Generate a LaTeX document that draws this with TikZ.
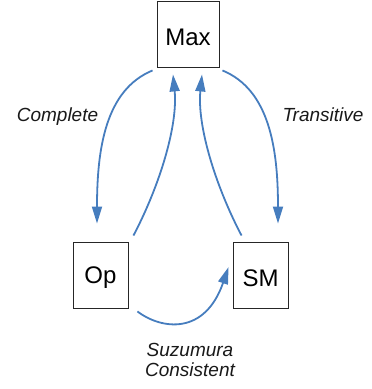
\documentclass[tikz,border=0pt]{standalone}
\usepackage{fontspec}
\setmainfont{Liberation Sans}
\usetikzlibrary{arrows.meta}
\definecolor{arrowblue}{RGB}{70,125,190}
\tikzset{
  boxnode/.style={draw=black!85, line width=0.9pt, rectangle, inner sep=0pt,
    minimum height=66pt, font=\fontsize{24}{28}\selectfont, text height=22pt, text depth=0pt},
  lbl/.style={font=\fontsize{19}{20}\selectfont\itshape, inner sep=0pt, text=black!90},
  conn/.style={draw=arrowblue, line width=1.8pt, -{Triangle[length=17pt,width=10pt]}}
}
\begin{document}
\begin{tikzpicture}[x=1pt,y=-1pt]
\useasboundingbox (0,0) rectangle (372,389);
\node[boxnode, minimum width=62pt] (max) at (188,34) {Max};
\node[boxnode, minimum width=55pt, text height=16pt] (op) at (100.5,275) {Op};
\node[boxnode, minimum width=55pt] (sm) at (260.5,275) {SM};

\draw[conn] ([xshift=-4pt,yshift=-3pt]max.south west) .. controls (105,90) and (97,150) .. ([xshift=-3.5pt,yshift=18pt]op.north);
\draw[conn] ([xshift=5pt,yshift=6pt]op.north east) .. controls (160,185) and (178,125) .. ([xshift=-15pt,yshift=-7pt]max.south);
\draw[conn] ([xshift=9pt,yshift=6pt]sm.north west) .. controls (215,185) and (197,125) .. ([xshift=14pt,yshift=-7pt]max.south);
\draw[conn] ([xshift=3pt,yshift=-3pt]max.south east) .. controls (270,90) and (278,150) .. ([xshift=17.5pt,yshift=18pt]sm.north);
\draw[conn] ([xshift=9pt,yshift=-3pt]op.south east) .. controls (162,330) and (205,335) .. ([xshift=-4pt,yshift=8pt]sm.west);

\node[lbl, anchor=base] (complete) at (57.5,121) {Complete};
\node[lbl, anchor=base] (transitive) at (323,121.5) {Transitive};
\node[lbl, align=center] (suzumura) at (190,359.8) {Suzumura\\Consistent};
\end{tikzpicture}
\end{document}
